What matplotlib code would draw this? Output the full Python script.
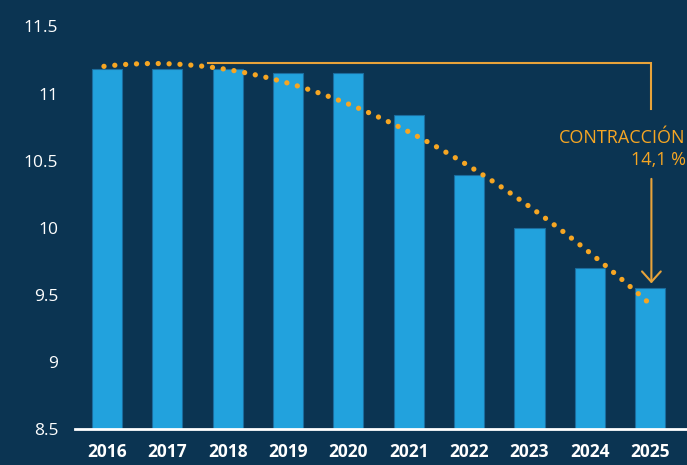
import numpy as np
import matplotlib
matplotlib.use('Agg')
import matplotlib.pyplot as plt

# data
years = [2016, 2017, 2018, 2019, 2020, 2021, 2022, 2023, 2024, 2025]
values = [11.18, 11.18, 11.18, 11.15, 11.15, 10.84, 10.39, 10.00, 9.70, 9.55]
trend = [11.21, 11.22, 11.17, 11.07, 10.93, 10.73, 10.46, 10.15, 9.80, 9.44]
yticks = [8.5, 9, 9.5, 10, 10.5, 11, 11.5]
ytick_labels = ['8.5', '9', '9.5', '10', '10.5', '11', '11.5']
note_title = 'CONTRACCIÓN'
note_value = '14,1 %'

BG = '#0b3452'
BAR = '#22a2dd'
ORANGE = '#f6a623'
LINE = '#e8a33a'

plt.rcParams['font.family'] = ['Open Sans', 'DejaVu Sans']

fig = plt.figure(figsize=(6.87, 4.65), dpi=100, facecolor=BG)
ax = fig.add_axes([75 / 687, 36 / 465, 1 - 75 / 687, 1 - 36 / 465])
ax.set_facecolor(BG)

ax.bar(years, values, width=0.5, color=BAR, edgecolor='#1b6c9e', linewidth=0.8, zorder=2)

# smooth dotted trend curve through the read-off trend values
coef = np.polyfit(years, trend, 3)
xs = np.linspace(years[0] - 0.05, years[-1], 300)
ax.plot(xs, np.polyval(coef, xs), color=ORANGE, linewidth=3.8,
        linestyle=(0, (0.01, 2.05)), dash_capstyle='round', zorder=3)

# bracket + arrow annotation
y_top = 11.228
ax.plot([2017.67, 2025.02, 2025.02], [y_top, y_top, 10.885], color=LINE,
        linewidth=1.5, zorder=1, solid_joinstyle='miter')
ax.annotate('', xy=(2025.02, 9.585), xytext=(2025.02, 10.364),
            arrowprops=dict(arrowstyle='->,head_length=0.5,head_width=0.45',
                            color=LINE, lw=1.5, mutation_scale=15,
                            shrinkA=0, shrinkB=0), zorder=4)
ax.text(2025.59, 10.63, note_title, color=ORANGE, fontsize=13,
        ha='right', va='baseline', clip_on=False)
ax.text(2025.59, 10.47, note_value, color=ORANGE, fontsize=13,
        ha='right', va='baseline', clip_on=False)

ax.set_xlim(2015.47, 2025.61)
ax.set_ylim(8.5, 11.697)
ax.set_yticks(yticks)
ax.set_yticklabels(ytick_labels)
ax.set_xticks(years)
ax.set_xticklabels([str(y) for y in years], fontweight='bold')

for s in ['top', 'right', 'left']:
    ax.spines[s].set_visible(False)
ax.spines['bottom'].set_color('white')
ax.spines['bottom'].set_linewidth(2)
ax.spines['bottom'].set_zorder(5)
ax.tick_params(axis='y', length=0, pad=12, labelsize=12.5, colors='white')
ax.tick_params(axis='x', length=0, pad=10, labelsize=12.5, colors='white')

fig.savefig('out.png', dpi=100, facecolor=BG)
